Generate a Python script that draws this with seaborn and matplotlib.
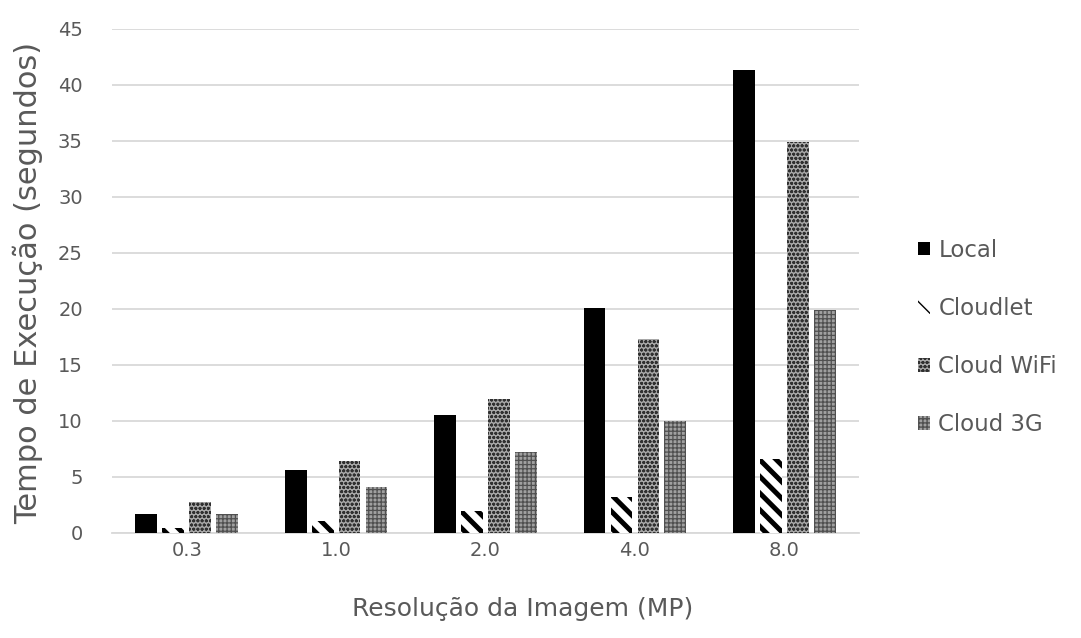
import numpy as np
import pandas as pd
import matplotlib
matplotlib.use("Agg")
import matplotlib.pyplot as plt
import seaborn as sns
from matplotlib.patches import Patch

# Execution time (seconds) per image resolution and processing mode
resolutions = ["0.3", "1.0", "2.0", "4.0", "8.0"]
modes = ["Local", "Cloudlet", "Cloud WiFi", "Cloud 3G"]
local = [1.7, 5.6, 10.5, 20.1, 41.3]
cloudlet = [0.45, 1.1, 2.0, 3.2, 6.6]
cloud_wifi = [2.8, 6.4, 12.0, 17.3, 34.9]
cloud_3g = [1.7, 4.1, 7.25, 10.0, 19.9]

series = {"Local": local, "Cloudlet": cloudlet,
          "Cloud WiFi": cloud_wifi, "Cloud 3G": cloud_3g}
df = pd.DataFrame(
    [(r, m, v) for m in modes for r, v in zip(resolutions, series[m])],
    columns=["res", "mode", "time"],
)

sns.set_theme(style="white")
plt.rcParams["font.family"] = ["DejaVu Sans"]
plt.rcParams["hatch.linewidth"] = 1.0
plt.rcParams["xtick.labelsize"] = 14
plt.rcParams["ytick.labelsize"] = 14
plt.rcParams["xtick.major.pad"] = 6
plt.rcParams["ytick.major.pad"] = 21

TEXT = "#595959"
GRID = "#d9d9d9"

fig = plt.figure(figsize=(10.81, 6.38), dpi=100)
ax = fig.add_axes([0.1036, 0.1646, 0.6911, 0.79])

sns.barplot(data=df, x="res", y="time", hue="mode", order=resolutions,
            hue_order=modes, width=0.72, gap=0.19, ax=ax, legend=False,
            errorbar=None, zorder=3)

# fill styles for each mode: (facecolor, hatch colour, hatch, hatch width)
styles = {
    "Local": ("black", "black", None, 1.0),
    "Cloudlet": ("white", "black", "\\\\", 3.6),
    "Cloud WiFi": ("#a8a8a8", "#303030", "oooo", 0.9),
    "Cloud 3G": ("#a0a0a0", "#505050", "++++", 0.9),
}
for cont, m in zip(ax.containers, modes):
    fc, hc, hatch, hlw = styles[m]
    for bar in cont:
        bar.set_facecolor(fc)
        bar.set_edgecolor(hc)
        bar.set_linewidth(0)
        if hatch:
            bar.set_hatch(hatch)
            bar.set_hatch_linewidth(hlw)

ax.set_ylim(0, 45)
ax.set_yticks(np.arange(0, 46, 5))
ax.yaxis.grid(True, color=GRID, linewidth=1.3, zorder=0)
ax.set_axisbelow(True)
for s in ["top", "right", "left"]:
    ax.spines[s].set_visible(False)
ax.spines["bottom"].set_color(GRID)
ax.spines["bottom"].set_linewidth(1.3)
ax.tick_params(axis="x", length=0, labelsize=14, labelcolor=TEXT, pad=6)
ax.tick_params(axis="y", which="both", left=True, length=0, direction="out",
               labelsize=14, labelcolor=TEXT, pad=21)

ax.set_xlabel("Resolução da Imagem (MP)", fontsize=18, color=TEXT)
ax.set_ylabel("Tempo de Execução (segundos)", fontsize=22, color=TEXT)
ax.xaxis.set_label_coords(0.549, -0.128)
ax.yaxis.set_label_coords(-0.092, 0.497)

# lay out the axes and its ticks before adding the side legend
fig.canvas.draw()

handles = []
for m in modes:
    fc, hc, hatch, hlw = styles[m]
    p = Patch(facecolor=fc, edgecolor=hc, hatch=hatch, linewidth=0, label=m)
    if hatch:
        p.set_hatch_linewidth(hlw)
    handles.append(p)
leg = fig.legend(handles=handles, loc="center left", bbox_to_anchor=(0.830, 0.471),
                 frameon=False, fontsize=16.5, handlelength=0.55, handleheight=0.55,
                 handletextpad=0.35, labelspacing=1.54, labelcolor=TEXT)

fig.savefig("out.png", dpi=100)
